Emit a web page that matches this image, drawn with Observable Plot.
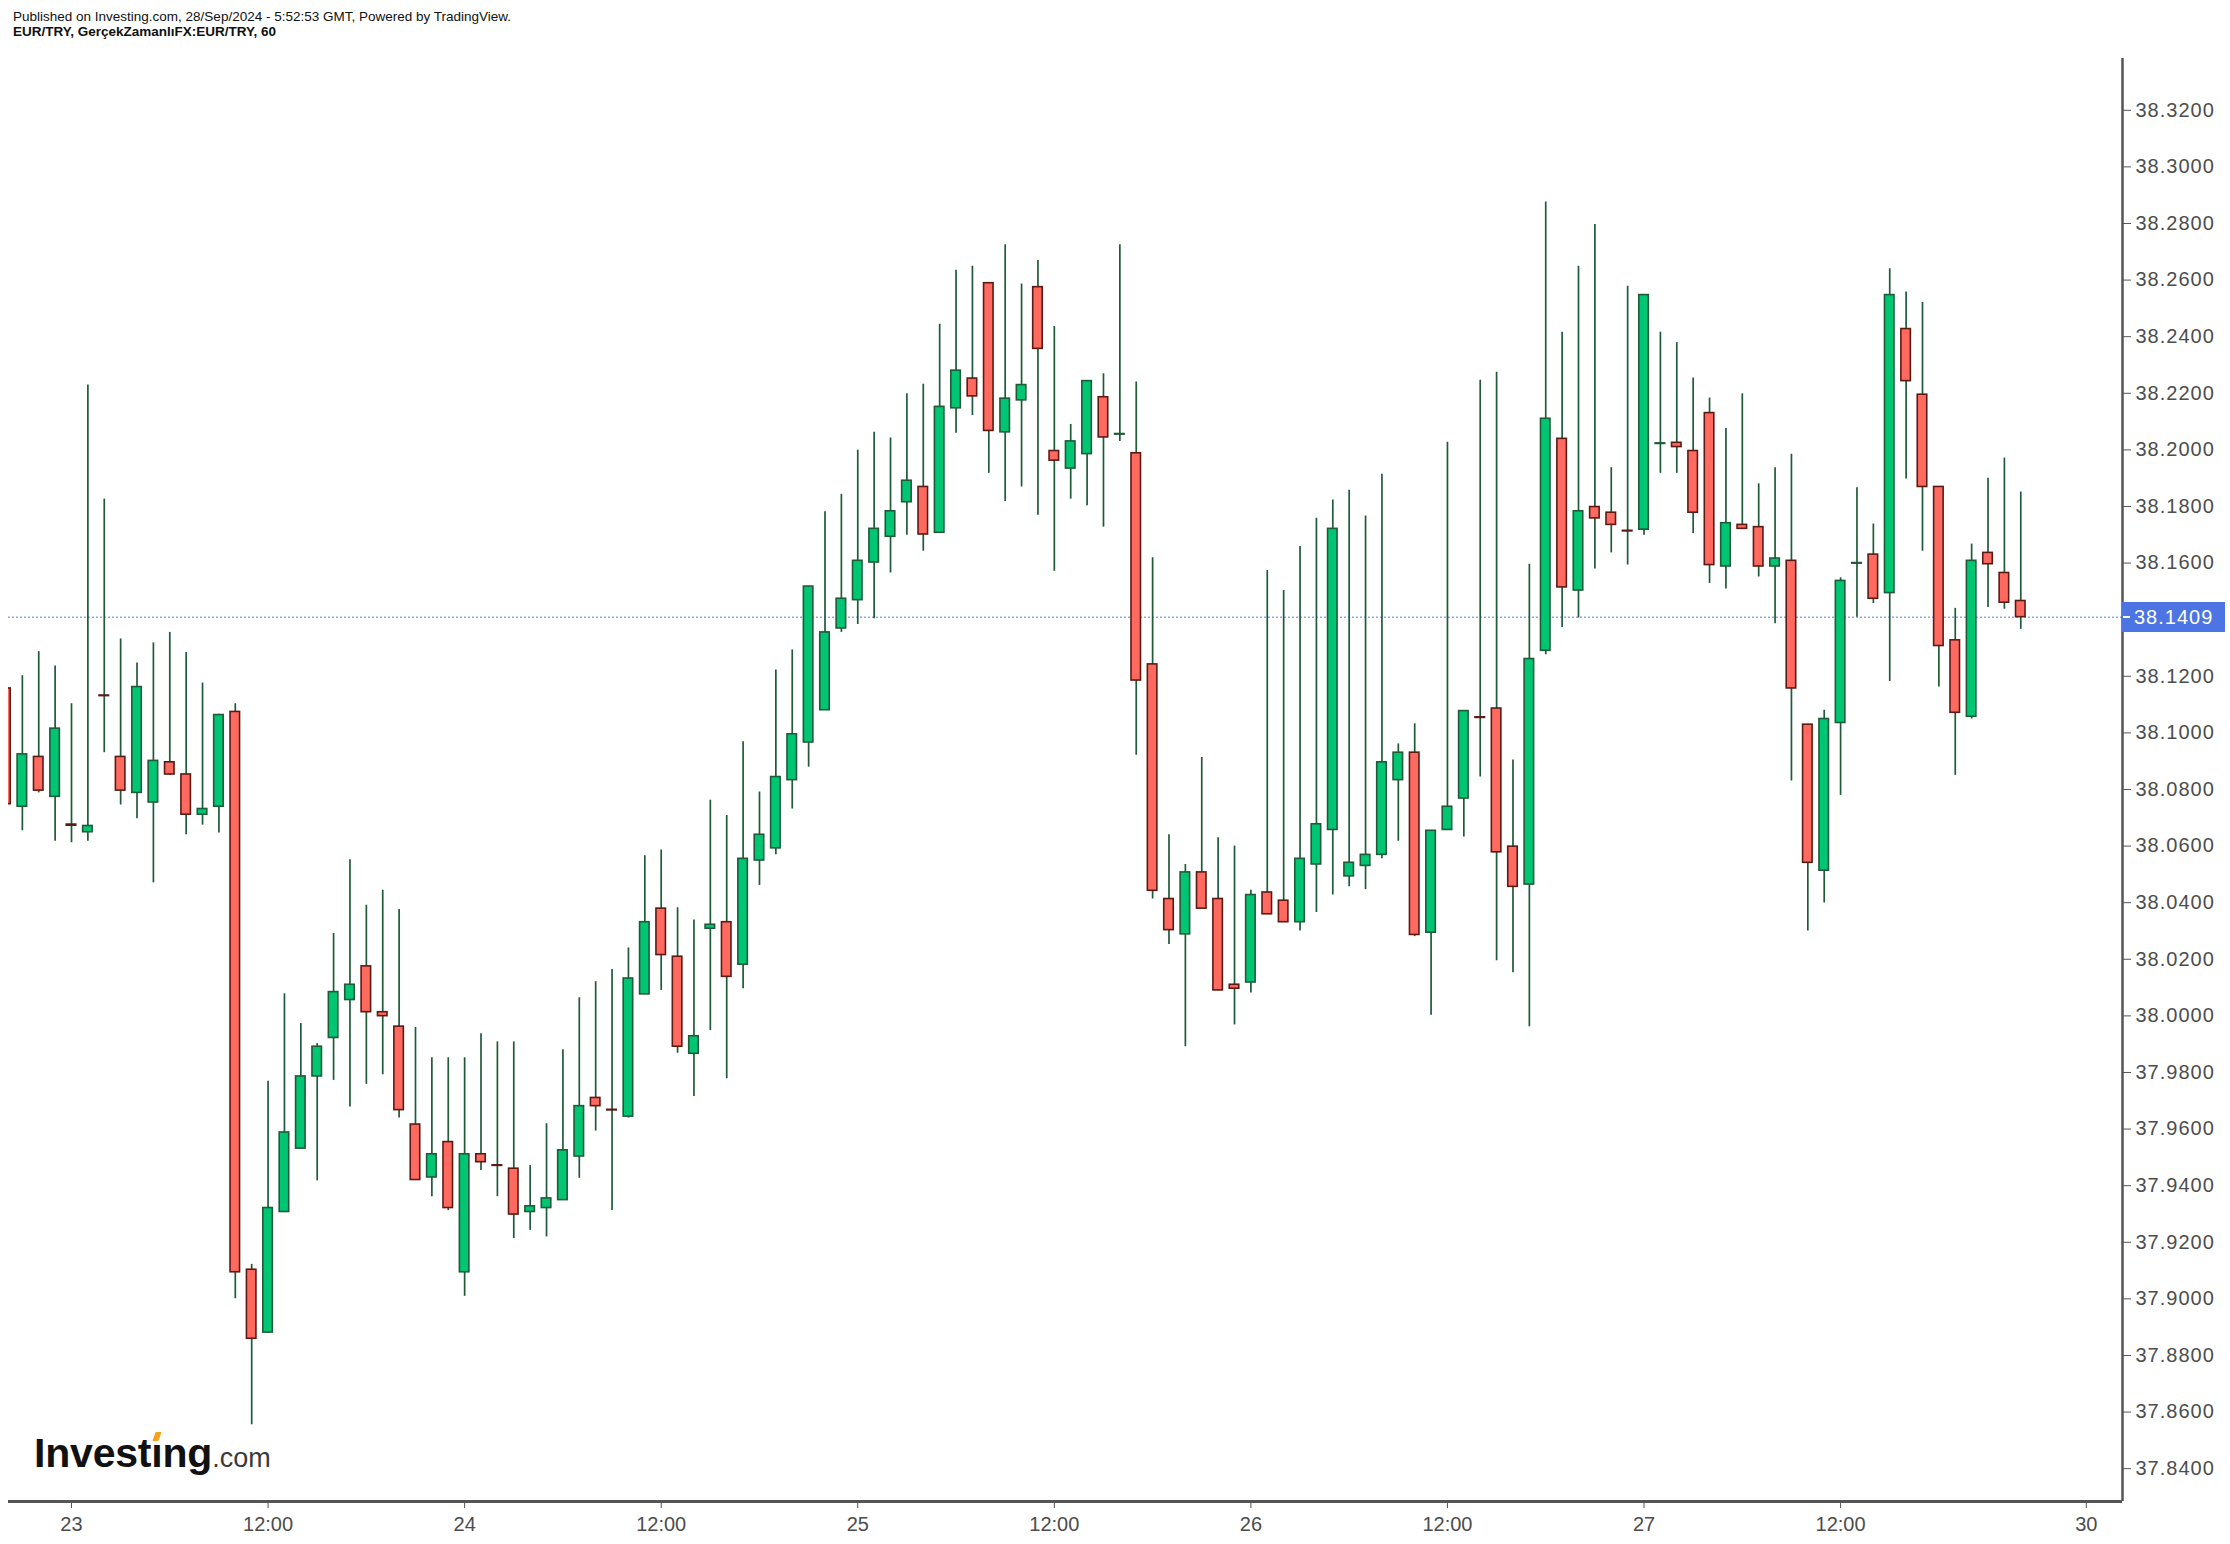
<!DOCTYPE html>
<html>
<head>
<meta charset="utf-8">
<script src="https://cdn.jsdelivr.net/npm/d3@7"></script>
<script src="https://cdn.jsdelivr.net/npm/@observablehq/plot@0.6"></script>
<style>
  html, body { margin: 0; padding: 0; background: #fff; }
  body { width: 2230px; height: 1544px; overflow: hidden; position: relative; font-family: "Liberation Sans", Arial, sans-serif; }
  #hdr { height: 50px; position: relative; }
  .l1 { position: absolute; left: 13px; top: 9px; font-family: "Liberation Sans Narrow", "Arial Narrow", "Liberation Sans", sans-serif; font-size: 13.5px; color: #111; white-space: nowrap; line-height: 16px; }
  .l2 { position: absolute; left: 13px; top: 24px; font-family: "Liberation Sans Narrow", "Arial Narrow", "Liberation Sans", sans-serif; font-size: 13.5px; font-weight: bold; color: #111; white-space: nowrap; line-height: 16px; }
  #chart { position: relative; }
  #price { position: absolute; left: 2122px; width: 103px; height: 30px; background: #4c75e3; color: #fff; font-size: 20px; line-height: 30px; letter-spacing: 1px; box-sizing: border-box; padding-left: 12px; }
  #price::before { content: ""; position: absolute; left: 1px; top: 14px; width: 7px; height: 2px; background: #fff; }
  #logo { position: absolute; left: 34px; top: 1433px; font-size: 41px; line-height: 1; font-weight: bold; color: #111; white-space: nowrap; letter-spacing: -0.2px; }
  #logo .com { font-size: 27px; font-weight: normal; color: #3a3a3a; letter-spacing: 0; }
  #logo .idot { position: relative; }
  #logo .idot::before { content: ""; position: absolute; left: 3px; top: 2px; width: 6px; height: 9px; background: #f5a11c; transform: skewX(-20deg); border-radius: 1px; }
  svg g[aria-label="y-axis tick label"] text { letter-spacing: 1px; }
</style>
</head>
<body>
<div id="hdr">
  <div class="l1">Published on Investing.com, 28/Sep/2024 - 5:52:53 GMT, Powered by TradingView.</div>
  <div class="l2">EUR/TRY, GerçekZamanlıFX:EUR/TRY, 60</div>
</div>
<div id="chart"></div>
<script>
// Hourly bars, index 0 = 23 Sep 00:00
const firstIndex = -4;
const opens = [
  38.1157, 38.0739, 38.0915, 38.0774, 38.0676, 38.0649, 38.1132, 38.0915, 38.0788, 38.0754,
  38.0896, 38.0853, 38.0711, 38.0739, 38.1074, 37.9103, 37.8881, 37.9307, 37.9531, 37.9786,
  37.9922, 38.0056, 38.0175, 38.0013, 37.9962, 37.9616, 37.9429, 37.9554, 37.9094, 37.9511,
  37.9472, 37.9460, 37.9307, 37.9321, 37.9349, 37.9503, 37.9710, 37.9668, 37.9644, 38.0076,
  38.0379, 38.0209, 37.9866, 38.0308, 38.0331, 38.0181, 38.0549, 38.0592, 38.0833, 38.0966,
  38.1080, 38.1369, 38.1469, 38.1602, 38.1693, 38.1815, 38.1869, 38.1707, 38.2147, 38.2252,
  38.2589, 38.2062, 38.2175, 38.2575, 38.1996, 38.1934, 38.1985, 38.2186, 38.2054, 38.1988,
  38.1242, 38.0413, 38.0288, 38.0507, 38.0413, 38.0110, 38.0118, 38.0436, 38.0407, 38.0331,
  38.0535, 38.0657, 38.0493, 38.0530, 38.0569, 38.0833, 38.0930, 38.0294, 38.0657, 38.0768,
  38.1055, 38.1086, 38.0598, 38.0464, 38.1290, 38.2039, 38.1503, 38.1798, 38.1778, 38.1714,
  38.1718, 38.2021, 38.2025, 38.1996, 38.2130, 38.1588, 38.1735, 38.1727, 38.1588, 38.1608,
  38.1029, 38.0513, 38.1035, 38.1598, 38.1630, 38.1494, 38.2427, 38.2195, 38.1869, 38.1327,
  38.1057, 38.1636, 38.1565, 38.1466
];
const highs = [
  38.1180, 38.1202, 38.1287, 38.1236, 38.1103, 38.2229, 38.1826, 38.1332, 38.1247, 38.1318,
  38.1355, 38.1284, 38.1176, 38.1066, 38.1103, 37.9122, 37.9769, 38.0078, 37.9973, 37.9902,
  38.0291, 38.0552, 38.0391, 38.0444, 38.0376, 37.9959, 37.9852, 37.9852, 37.9852, 37.9937,
  37.9908, 37.9908, 37.9471, 37.9619, 37.9880, 38.0064, 38.0121, 38.0164, 38.0240, 38.0566,
  38.0586, 38.0382, 38.0339, 38.0762, 38.0708, 38.0969, 38.0791, 38.1222, 38.1293, 38.1518,
  38.1781, 38.1843, 38.1999, 38.2062, 38.2042, 38.2198, 38.2232, 38.2444, 38.2635, 38.2649,
  38.2590, 38.2725, 38.2586, 38.2669, 38.2436, 38.2090, 38.2244, 38.2269, 38.2725, 38.2240,
  38.1619, 38.0640, 38.0535, 38.0913, 38.0629, 38.0600, 38.0444, 38.1574, 38.1503, 38.1659,
  38.1758, 38.1823, 38.1857, 38.1766, 38.1914, 38.0961, 38.1032, 38.0655, 38.2027, 38.1078,
  38.2246, 38.2274, 38.0904, 38.1596, 38.2876, 38.2416, 38.2649, 38.2796, 38.1937, 38.2578,
  38.2548, 38.2416, 38.2379, 38.2254, 38.2183, 38.2076, 38.2198, 38.1880, 38.1937, 38.1985,
  38.1030, 38.1080, 38.1548, 38.1866, 38.1738, 38.2640, 38.2558, 38.2521, 38.1870, 38.1440,
  38.1667, 38.1900, 38.1971, 38.1851
];
const lows = [
  38.0730, 38.0654, 38.0788, 38.0617, 38.0612, 38.0617, 38.0930, 38.0745, 38.0697, 38.0470,
  38.0850, 38.0640, 38.0674, 38.0646, 37.9000, 37.8555, 37.8878, 37.9305, 37.9530, 37.9417,
  37.9772, 37.9678, 37.9758, 37.9792, 37.9639, 37.9420, 37.9361, 37.9312, 37.9009, 37.9454,
  37.9361, 37.9213, 37.9242, 37.9219, 37.9349, 37.9426, 37.9593, 37.9312, 37.9639, 38.0075,
  38.0090, 37.9868, 37.9715, 37.9948, 37.9778, 38.0096, 38.0461, 38.0569, 38.0731, 38.0879,
  38.1079, 38.1355, 38.1383, 38.1403, 38.1565, 38.1698, 38.1642, 38.1706, 38.2059, 38.2121,
  38.1917, 38.1818, 38.1869, 38.1769, 38.1571, 38.1826, 38.1803, 38.1727, 38.2030, 38.0921,
  38.0413, 38.0252, 37.9891, 38.0378, 38.0089, 37.9968, 38.0081, 38.0358, 38.0330, 38.0300,
  38.0365, 38.0427, 38.0456, 38.0447, 38.0555, 38.0617, 38.0280, 38.0002, 38.0656, 38.0632,
  38.0844, 38.0195, 38.0152, 37.9962, 38.1276, 38.1372, 38.1406, 38.1579, 38.1636, 38.1593,
  38.1698, 38.1917, 38.1917, 38.1704, 38.1528, 38.1508, 38.1720, 38.1551, 38.1386, 38.0830,
  38.0300, 38.0399, 38.0779, 38.1409, 38.1457, 38.1182, 38.1897, 38.1642, 38.1162, 38.0850,
  38.1049, 38.1443, 38.1437, 38.1366
];
const closes = [
  38.0748, 38.0924, 38.0796, 38.1015, 38.0672, 38.0671, 38.1130, 38.0796, 38.1162, 38.0901,
  38.0853, 38.0711, 38.0731, 38.1063, 37.9094, 37.8859, 37.9321, 37.9588, 37.9786, 37.9891,
  38.0084, 38.0110, 38.0013, 37.9999, 37.9667, 37.9420, 37.9511, 37.9321, 37.9511, 37.9483,
  37.9470, 37.9298, 37.9327, 37.9355, 37.9525, 37.9681, 37.9681, 37.9666, 38.0132, 38.0331,
  38.0215, 37.9891, 37.9928, 38.0322, 38.0138, 38.0555, 38.0640, 38.0844, 38.0995, 38.1517,
  38.1355, 38.1474, 38.1608, 38.1721, 38.1783, 38.1891, 38.1701, 38.2152, 38.2280, 38.2189,
  38.2067, 38.2181, 38.2229, 38.2357, 38.1962, 38.2030, 38.2243, 38.2044, 38.2056, 38.1185,
  38.0442, 38.0303, 38.0507, 38.0379, 38.0090, 38.0096, 38.0427, 38.0359, 38.0331, 38.0555,
  38.0677, 38.1721, 38.0541, 38.0569, 38.0896, 38.0930, 38.0286, 38.0654, 38.0739, 38.1077,
  38.1053, 38.0578, 38.0456, 38.1261, 38.2110, 38.1514, 38.1783, 38.1758, 38.1735, 38.1712,
  38.2547, 38.2023, 38.2010, 38.1778, 38.1593, 38.1741, 38.1721, 38.1588, 38.1616, 38.1157,
  38.0541, 38.1049, 38.1537, 38.1600, 38.1474, 38.2547, 38.2243, 38.1869, 38.1307, 38.1071,
  38.1608, 38.1596, 38.1460, 38.1409
];
const lastPrice = 38.1409;

const yTicks = [37.84, 37.86, 37.88, 37.90, 37.92, 37.94, 37.96, 37.98, 38.00, 38.02, 38.04, 38.06,
  38.08, 38.10, 38.12, 38.16, 38.18, 38.20, 38.22, 38.24, 38.26, 38.28, 38.30, 38.32];
const xTickIndex = [0, 12, 24, 36, 48, 60, 72, 84, 96, 108, 123];
const xTickLabels = ["23", "12:00", "24", "12:00", "25", "12:00", "26", "12:00", "27", "12:00", "30"];

const xDomain = [-3.846, 125.21];
const yDomain = [37.8284, 38.3383];

const candles = opens.map((o, k) => ({
  i: firstIndex + k, open: o, high: highs[k], low: lows[k], close: closes[k], up: closes[k] >= o
}));

const GREEN = "#00c572", GREEN_EDGE = "#1d5b39", RED = "#ff6a60", RED_EDGE = "#5c1a14", WICK = "#1f5a3a";
const AXIS = "#555555", TEXT = "#4d4d4d";
const halfBody = 0.29;

const chart = Plot.plot({
  width: 2230,
  height: 1494,
  marginTop: 8,
  marginBottom: 43,
  marginLeft: 8,
  marginRight: 108,
  style: { fontFamily: "'Liberation Sans', Arial, sans-serif", fontSize: "20px", color: TEXT, background: "#fff" },
  x: { type: "linear", domain: xDomain, label: null },
  y: { type: "linear", domain: yDomain, label: null },
  marks: [
    Plot.ruleY([lastPrice], { stroke: "#8ea7ef", strokeWidth: 1.5, strokeDasharray: "2,2" }),
    Plot.ruleX(candles, { x: "i", y1: "low", y2: "high", stroke: WICK, strokeWidth: 1.7, clip: true }),
    Plot.rect(candles, {
      x1: d => d.i - halfBody, x2: d => d.i + halfBody,
      y1: "open", y2: "close",
      fill: d => d.up ? GREEN : RED,
      stroke: d => d.up ? GREEN_EDGE : RED_EDGE,
      strokeWidth: 1.6, clip: true
    }),
    Plot.axisY({ anchor: "right", ticks: yTicks, tickFormat: d => d.toFixed(4), tickSize: 8, tickPadding: 5,
      stroke: AXIS, fill: TEXT, fontSize: 20, label: null }),
    Plot.axisX({ anchor: "bottom", ticks: xTickIndex, tickFormat: d => xTickLabels[xTickIndex.indexOf(d)],
      tickSize: 7, tickPadding: 8, stroke: AXIS, fill: TEXT, fontSize: 20, label: null }),
    Plot.ruleX([xDomain[1]], { stroke: AXIS, strokeWidth: 2.5 }),
    Plot.ruleY([yDomain[0]], { stroke: AXIS, strokeWidth: 3 })
  ]
});

const holder = document.getElementById("chart");
holder.appendChild(chart);

// price label placed with the chart's own y scale
const py = chart.scale("y").apply(lastPrice);
const label = document.createElement("div");
label.id = "price";
label.textContent = lastPrice.toFixed(4);
label.style.top = (py - 15) + "px";
holder.appendChild(label);
</script>
<div id="logo">Invest<span class="idot">ı</span>ng<span class="com">.com</span></div>
</body>
</html>
